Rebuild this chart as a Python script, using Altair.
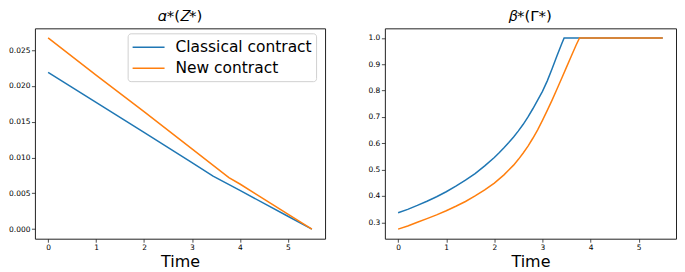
import altair as alt
import pandas as pd

# ---- data ----
series_names = ["Classical contract", "New contract"]

alpha_classical_t = [0, 1, 2, 3, 3.44, 4, 5, 5.5]
alpha_classical_v = [0.0219, 0.0177, 0.0135, 0.0093, 0.0074, 0.0054, 0.0018, 0.0]
alpha_new_t = [0, 1, 2, 3, 3.77, 4, 5, 5.5]
alpha_new_v = [0.0267, 0.0215, 0.0164, 0.0112, 0.0072, 0.0063, 0.0021, 0.0]

beta_classical_t = [0, 0.2, 0.4, 0.6, 0.8, 1.0, 1.2, 1.4, 1.6, 1.8, 2.0, 2.1, 2.2, 2.3, 2.4,
                    2.5, 2.6, 2.7, 2.8, 2.9, 3.0, 3.1, 3.2, 3.3, 3.4, 3.45, 5.5]
beta_classical_v = [0.336, 0.349, 0.364, 0.380, 0.397, 0.416, 0.437, 0.460, 0.485, 0.514, 0.546,
                    0.564, 0.583, 0.603, 0.624, 0.647, 0.672, 0.700, 0.731, 0.764, 0.797,
                    0.837, 0.883, 0.931, 0.978, 1.0, 1.0]
beta_new_t = [0, 0.2, 0.4, 0.6, 0.8, 1.0, 1.2, 1.4, 1.6, 1.8, 2.0, 2.2, 2.4, 2.5, 2.6, 2.7,
              2.8, 2.9, 3.0, 3.1, 3.2, 3.3, 3.4, 3.5, 3.6, 3.7, 3.77, 5.5]
beta_new_v = [0.274, 0.286, 0.300, 0.314, 0.328, 0.344, 0.361, 0.379, 0.400, 0.423, 0.449,
              0.480, 0.517, 0.539, 0.563, 0.589, 0.619, 0.651, 0.687, 0.725, 0.764, 0.805,
              0.847, 0.889, 0.931, 0.973, 1.0, 1.0]

x_ticks = [0, 1, 2, 3, 4, 5]
alpha_ticks = [0.0, 0.005, 0.010, 0.015, 0.020, 0.025]
beta_ticks = [0.3, 0.4, 0.5, 0.6, 0.7, 0.8, 0.9, 1.0]

colors = ["#1f77b4", "#ff7f0e"]


def frame(ts_list, vs_list):
    rows = []
    for order, (name, ts, vs) in enumerate(zip(series_names, ts_list, vs_list)):
        for i, (t, v) in enumerate(zip(ts, vs)):
            rows.append({"series": name, "order": order, "idx": i, "t": t, "v": v})
    return pd.DataFrame(rows)


alpha_df = frame([alpha_classical_t, alpha_new_t], [alpha_classical_v, alpha_new_v])
beta_df = frame([beta_classical_t, beta_new_t], [beta_classical_v, beta_new_v])

FONT = "DejaVu Sans"

x_enc = alt.X(
    "t:Q",
    scale=alt.Scale(domain=[-0.275, 5.775], nice=False, zero=False),
    axis=alt.Axis(values=x_ticks, format="d", title="Time", grid=False, titlePadding=2),
)

color_scale = alt.Scale(domain=series_names, range=colors)

left = (
    alt.Chart(alpha_df, title=alt.Title("𝛼*(𝑍*)"))
    .mark_line(strokeWidth=1.5)
    .encode(
        x=x_enc,
        y=alt.Y(
            "v:Q",
            scale=alt.Scale(domain=[-0.00134, 0.02804], nice=False, zero=False),
            axis=alt.Axis(values=alpha_ticks, format=".3f", title=None, grid=False),
        ),
        color=alt.Color(
            "series:N",
            scale=color_scale,
            legend=alt.Legend(
                title=None,
                orient="none",
                legendX=93,
                legendY=5,
                symbolType="M-1.78,0H1.78",
                symbolSize=324,
                symbolStrokeWidth=1.5,
                symbolOffset=7,
                labelFontSize=15.5,
                labelFont=FONT,
                labelColor="black",
                labelOffset=17,
                rowPadding=2,
                padding=4,
                fillColor="white",
                strokeColor="#d0d0d0",
                cornerRadius=3,
            ),
        ),
        order="idx:Q",
        detail="order:O",
    )
    .properties(width=291, height=211)
)

right = (
    alt.Chart(beta_df, title=alt.Title("𝛽*(Γ*)"))
    .mark_line(strokeWidth=1.5)
    .encode(
        x=x_enc,
        y=alt.Y(
            "v:Q",
            scale=alt.Scale(domain=[0.2377, 1.0363], nice=False, zero=False),
            axis=alt.Axis(values=beta_ticks, format=".1f", title=None, grid=False),
        ),
        color=alt.Color("series:N", scale=color_scale, legend=None),
        order="idx:Q",
        detail="order:O",
    )
    .properties(width=292, height=211)
)

chart = (
    alt.hconcat(left, right, spacing=41)
    .resolve_scale(color="independent", x="independent", y="independent")
    .resolve_legend(color="independent")
    .properties(padding={"left": 0, "top": 0, "right": 0, "bottom": 0})
    .configure(font=FONT)
    .configure_view(stroke="#222222", strokeWidth=1)
    .configure_axis(
        domain=False,
        ticks=True,
        tickSize=3.5,
        tickColor="#222222",
        tickWidth=0.8,
        labelFont=FONT,
        labelFontSize=7.5,
        labelColor="black",
        labelPadding=1.5,
        titleFont=FONT,
        titleFontSize=16,
        titleFontWeight="normal",
        titleColor="black",
    )
    .configure_title(font=FONT, fontSize=15, fontWeight="normal", color="black", offset=0)
)

chart.save("out.html", embed_options={"renderer": "svg", "actions": False})
